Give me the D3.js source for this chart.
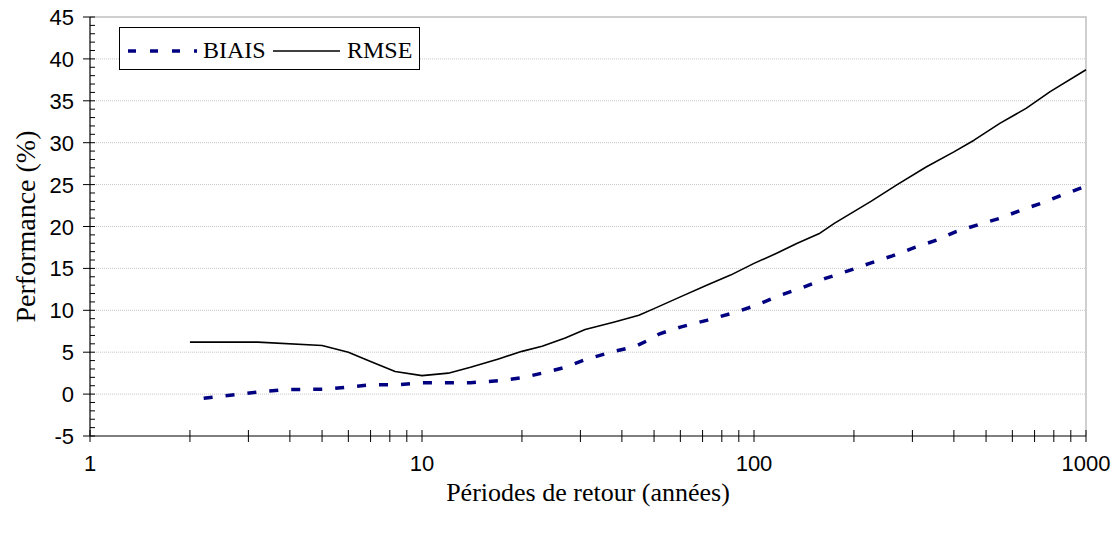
<!DOCTYPE html>
<html>
<head>
<meta charset="utf-8">
<script src="https://cdn.jsdelivr.net/npm/d3@7"></script>
<style>
  html, body { margin: 0; padding: 0; background: #fff; }
  svg { display: block; }
</style>
</head>
<body>
<svg id="chart" width="1119" height="535"></svg>
<script>
// Return periods (years) and performance values (%)
const rmseT = [2, 3.2, 5, 6, 7, 8.3, 10, 12, 14, 17, 20, 23, 27, 31, 38, 45, 50, 60, 72, 85, 100, 117, 135, 158, 175, 225, 270, 330, 400, 460, 550, 660, 780, 1000];
const rmseValues = [6.2, 6.2, 5.8, 5.0, 3.9, 2.7, 2.2, 2.5, 3.2, 4.2, 5.1, 5.7, 6.7, 7.7, 8.6, 9.4, 10.2, 11.6, 13.0, 14.2, 15.6, 16.8, 18.0, 19.2, 20.4, 23.0, 25.0, 27.1, 28.9, 30.3, 32.3, 34.1, 36.1, 38.7];

const biaisT = [2.2, 3.3, 4, 5.2, 6, 7, 8.5, 10, 14, 17, 20, 23, 27, 31, 37, 44, 49, 52, 60, 72, 85, 100, 120, 140, 164, 192, 223, 261, 305, 356, 406, 472, 552, 632, 736, 851, 1000];
const biaisValues = [-0.5, 0.3, 0.55, 0.6, 0.85, 1.1, 1.12, 1.35, 1.36, 1.6, 1.95, 2.5, 3.2, 4.1, 5.0, 5.7, 6.6, 7.2, 8.0, 8.8, 9.6, 10.5, 11.8, 12.7, 13.8, 14.7, 15.6, 16.5, 17.5, 18.4, 19.4, 20.2, 21.0, 21.9, 22.8, 23.8, 24.8];

const xTickValues = [1, 10, 100, 1000];
const yTickValues = [-5, 0, 5, 10, 15, 20, 25, 30, 35, 40, 45];
const seriesNames = ["BIAIS", "RMSE"];
const xTitle = "Périodes de retour (années)";
const yTitle = "Performance (%)";

const svg = d3.select("#chart");
const plotLeft = 90, plotRight = 1086, plotTop = 17, plotBottom = 436;

const x = d3.scaleLog().domain([1, 1000]).range([plotLeft, plotRight]);
const y = d3.scaleLinear().domain([-5, 45]).range([plotBottom, plotTop]);

// Horizontal grid lines
svg.append("g")
  .selectAll("line")
  .data(yTickValues.filter(v => v > -5 && v < 45))
  .join("line")
  .attr("x1", plotLeft).attr("x2", plotRight)
  .attr("y1", d => y(d)).attr("y2", d => y(d))
  .attr("stroke", "#c6c6c6")
  .attr("stroke-width", 1)
  .attr("stroke-dasharray", "1,1");

// Plot area frame (top and right)
svg.append("path")
  .attr("d", `M${plotLeft},${plotTop}H${plotRight}V${plotBottom}`)
  .attr("fill", "none")
  .attr("stroke", "#c0c0c0")
  .attr("stroke-width", 1.5);

const sans = "'Liberation Sans', Arial, sans-serif";
const serif = "'Liberation Serif', 'Times New Roman', serif";

// Y axis
const yMinor = d3.range(-5, 46, 1).filter(v => v % 5 !== 0);
const yAxisG = svg.append("g");
yAxisG.append("line")
  .attr("x1", plotLeft).attr("x2", plotLeft).attr("y1", plotTop).attr("y2", plotBottom)
  .attr("stroke", "#000").attr("stroke-width", 1.2);
yAxisG.selectAll(".ymaj").data(yTickValues).join("line")
  .attr("x1", plotLeft - 7).attr("x2", plotLeft + 5)
  .attr("y1", d => y(d)).attr("y2", d => y(d))
  .attr("stroke", "#000").attr("stroke-width", 1);
yAxisG.selectAll(".ymin").data(yMinor).join("line")
  .attr("x1", plotLeft).attr("x2", plotLeft + 5)
  .attr("y1", d => y(d)).attr("y2", d => y(d))
  .attr("stroke", "#000").attr("stroke-width", 1);
yAxisG.selectAll("text").data(yTickValues).join("text")
  .attr("x", plotLeft - 16)
  .attr("y", d => y(d) + 8)
  .attr("text-anchor", "end")
  .attr("font-family", sans)
  .attr("font-size", 22)
  .text(d => d);

// X axis
const xMinor = [];
[1, 10, 100].forEach(dec => { for (let k = 2; k <= 9; k++) xMinor.push(dec * k); });
const xAxisG = svg.append("g");
xAxisG.append("line")
  .attr("x1", plotLeft).attr("x2", plotRight).attr("y1", plotBottom).attr("y2", plotBottom)
  .attr("stroke", "#000").attr("stroke-width", 1.2);
xAxisG.selectAll(".xt").data(xTickValues.concat(xMinor)).join("line")
  .attr("x1", d => x(d)).attr("x2", d => x(d))
  .attr("y1", plotBottom - 6).attr("y2", plotBottom + 6)
  .attr("stroke", "#000").attr("stroke-width", 1);
xAxisG.selectAll("text").data(xTickValues).join("text")
  .attr("x", d => x(d))
  .attr("y", plotBottom + 35)
  .attr("text-anchor", "middle")
  .attr("font-family", sans)
  .attr("font-size", 22)
  .text(d => d);

// Axis titles
svg.append("text")
  .attr("x", (plotLeft + plotRight) / 2)
  .attr("y", 501)
  .attr("text-anchor", "middle")
  .attr("font-family", serif)
  .attr("font-size", 26)
  .text(xTitle);
svg.append("text")
  .attr("transform", `translate(35,${(plotTop + plotBottom) / 2}) rotate(-90)`)
  .attr("text-anchor", "middle")
  .attr("font-family", serif)
  .attr("font-size", 28)
  .text(yTitle);

// Series
const line = d3.line().x(d => x(d[0])).y(d => y(d[1]));
const rmseData = rmseT.map((t, i) => [t, rmseValues[i]]);
const biaisData = biaisT.map((t, i) => [t, biaisValues[i]]);

svg.append("path")
  .datum(rmseData)
  .attr("d", line)
  .attr("fill", "none")
  .attr("stroke", "#000")
  .attr("stroke-width", 1.6)
  .attr("stroke-linejoin", "round");

svg.append("path")
  .datum(biaisData)
  .attr("d", line)
  .attr("fill", "none")
  .attr("stroke", "#000080")
  .attr("stroke-width", 3.5)
  .attr("stroke-dasharray", "9,13");

// Legend
const lg = svg.append("g");
lg.append("rect")
  .attr("x", 119.5).attr("y", 27.5).attr("width", 300).attr("height", 42)
  .attr("fill", "#fff").attr("stroke", "#000").attr("stroke-width", 1);
lg.append("line")
  .attr("x1", 128).attr("x2", 197).attr("y1", 51).attr("y2", 51)
  .attr("stroke", "#000080").attr("stroke-width", 3.5)
  .attr("stroke-dasharray", "8,14");
lg.append("text")
  .attr("x", 203).attr("y", 58)
  .attr("font-family", serif).attr("font-size", 24)
  .text(seriesNames[0]);
lg.append("line")
  .attr("x1", 273).attr("x2", 340).attr("y1", 51).attr("y2", 51)
  .attr("stroke", "#000").attr("stroke-width", 1.6);
lg.append("text")
  .attr("x", 347).attr("y", 58)
  .attr("font-family", serif).attr("font-size", 24)
  .text(seriesNames[1]);
</script>
</body>
</html>
